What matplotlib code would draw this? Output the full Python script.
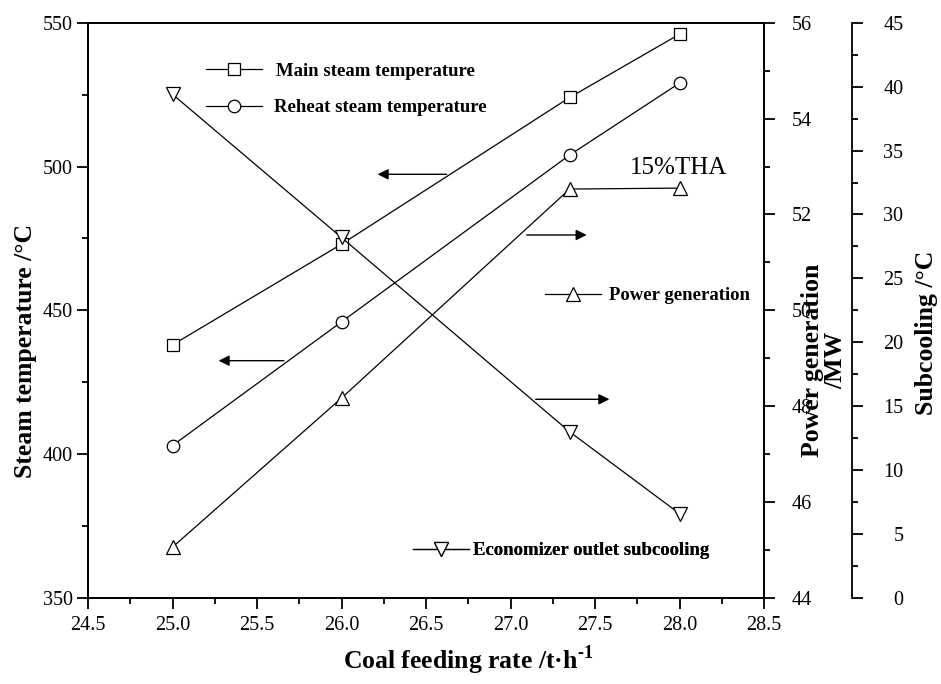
import matplotlib
matplotlib.use("Agg")
import matplotlib.pyplot as plt
from matplotlib.ticker import MultipleLocator, FormatStrFormatter

plt.rcParams['font.family'] = ['Liberation Serif', 'DejaVu Serif']
plt.rcParams['mathtext.fontset'] = 'custom'
plt.rcParams['mathtext.rm'] = 'Liberation Serif'
plt.rcParams['mathtext.bf'] = 'Liberation Serif:bold'

# ---- data ----
coal_rate = [25.0, 26.0, 27.35, 28.0]
main_steam = [438, 473, 524, 546]
reheat_steam = [403, 446, 504, 529]
power = [45.06, 48.17, 52.53, 52.55]
subcooling = [39.4, 28.2, 13.0, 6.6]

W, H = 941, 684
fig = plt.figure(figsize=(W / 100, H / 100), dpi=100)
ax = fig.add_axes([88 / W, 1 - 598 / H, 676 / W, 575.3 / H])
ax2 = ax.twinx()
ax3 = ax.twinx()

lw = 0.9
mkw = dict(markerfacecolor='white', markeredgecolor='black', markeredgewidth=0.9, color='black', lw=lw)
l1, = ax.plot(coal_rate, main_steam, marker='s', ms=8, **mkw)
l2, = ax.plot(coal_rate, reheat_steam, marker='o', ms=9, **mkw)
l3, = ax2.plot(coal_rate, power, marker='^', ms=10, **mkw)
l4, = ax3.plot(coal_rate, subcooling, marker='v', ms=10, **mkw)

ax.set_xlim(24.5, 28.5)
ax.set_ylim(350, 550)
ax2.set_ylim(44, 56)
ax3.set_ylim(0, 45)

tick_fs = 14.5
ax.xaxis.set_major_locator(MultipleLocator(0.5))
ax.xaxis.set_minor_locator(MultipleLocator(0.25))
ax.xaxis.set_major_formatter(FormatStrFormatter('%.1f'))
ax.yaxis.set_major_locator(MultipleLocator(50))
ax.yaxis.set_minor_locator(MultipleLocator(25))
ax2.yaxis.set_major_locator(MultipleLocator(2))
ax2.yaxis.set_minor_locator(MultipleLocator(1))
ax3.yaxis.set_major_locator(MultipleLocator(5))
ax3.yaxis.set_minor_locator(MultipleLocator(2.5))

for a in (ax, ax2, ax3):
    for s in a.spines.values():
        s.set_linewidth(1.3)

ax.tick_params(axis='x', which='major', direction='out', length=8, width=1.3, labelsize=tick_fs, pad=5, top=False)
ax.tick_params(axis='x', which='minor', direction='out', length=4, width=1.3, top=False)
ax.tick_params(axis='y', which='major', direction='out', length=8, width=1.3, labelsize=tick_fs, pad=3, right=False)
ax.tick_params(axis='y', which='minor', direction='out', length=4, width=1.3, right=False)

ax2.tick_params(axis='y', which='major', direction='out', length=8, width=1.3, labelsize=tick_fs, pad=12)
ax2.tick_params(axis='y', which='minor', direction='out', length=4, width=1.3)

ax3.spines['right'].set_position(('axes', 764 / 676))
for side in ('left', 'top', 'bottom'):
    ax3.spines[side].set_visible(False)
ax3.tick_params(axis='y', which='major', direction='out', length=8, width=1.3, labelsize=tick_fs, pad=29)
ax3.tick_params(axis='y', which='minor', direction='out', length=4, width=1.3)
for t in ax3.get_yticklabels():
    t.set_horizontalalignment('right')

# axis labels
lab_fs = 18.5
fig.text(26 / W, 1 - 351 / H, 'Steam temperature /°C', rotation=90, ha='center', va='center',
         fontsize=lab_fs, fontweight='bold')
fig.text(468 / W, 1 - 660 / H, 'Coal feeding rate /t·h$^{\\mathbf{\u2010}\\mathbf{1}}$', ha='center', va='center',
         fontsize=lab_fs, fontweight='bold')
fig.text(824 / W, 1 - 360 / H, 'Power generation\n/MW', rotation=90, ha='center', va='center',
         fontsize=lab_fs, fontweight='bold', multialignment='center', linespacing=1.05)
fig.text(927 / W, 1 - 333 / H, 'Subcooling /°C', rotation=90, ha='center', va='center',
         fontsize=lab_fs, fontweight='bold')

# legends (one per series)
leg_fs = 13.5
def add_leg(handle, label, xy, textpad):
    lg = ax3.legend([handle], [label], loc='center left', bbox_to_anchor=xy, frameon=False,
                    borderpad=0, borderaxespad=0, handlelength=3.0, handletextpad=textpad,
                    prop={'weight': 'bold', 'size': leg_fs}, bbox_transform=ax.transAxes)
    ax3.add_artist(lg)

add_leg(l1, 'Main steam temperature', (0.1746, 0.9160), 0.75)
add_leg(l2, 'Reheat steam temperature', (0.1746, 0.8522), 0.6)
add_leg(l3, 'Power generation', (0.6760, 0.5255), 0.4)
add_leg(l4, 'Economizer outlet subcooling', (0.4808, 0.0822), 0.2)

# arrows
arrows = [((0.5305, 0.7365), (0.4284, 0.7365)),
          ((0.2898, 0.4125), (0.1932, 0.4125)),
          ((0.6490, 0.6310), (0.7377, 0.6310)),
          ((0.6622, 0.3454), (0.7713, 0.3454))]
for start, end in arrows:
    ax3.annotate('', xy=end, xytext=start, xycoords=ax.transAxes, textcoords=ax.transAxes,
                 arrowprops=dict(arrowstyle='-|>', mutation_scale=16, lw=1.0, color='black',
                                 shrinkA=0, shrinkB=0))

ax3.text(0.8018, 0.747, '15%THA', transform=ax.transAxes, fontsize=18, ha='left', va='center')

fig.savefig('out.png', dpi=100)
